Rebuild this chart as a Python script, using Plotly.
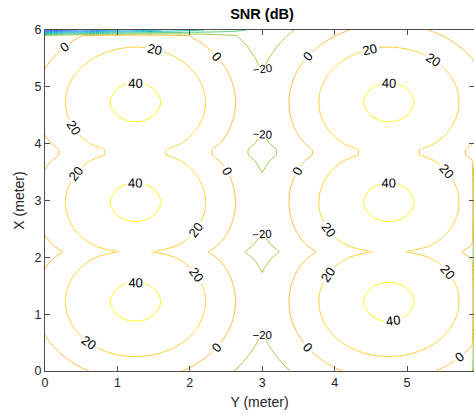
import numpy as np
import plotly.graph_objects as go

# ---- room / lamp layout (meters) ----
room_size = 6.0
grid_step = 0.1
led_cols = [1.25, 4.75]          # lamp columns along the horizontal axis (Y)
led_rows = [1.22, 2.97, 4.73]    # lamp rows along the vertical axis (X)

# single-lamp SNR (dB) against horizontal distance from the lamp (m)
profile_dist = [0.0, 0.2, 0.35, 0.5, 0.7, 0.97, 1.2, 1.38, 1.70, 1.83, 2.2, 3.0]
profile_db = [43.3, 42.2, 40.0, 36.6, 30.6, 20.0, 9.2, 0.0, -15.5, -20.0, -36.0, -71.0]

# samples along the far walls where the response collapses
top_edge_x = [0.0, 2.9]
top_edge_db = [-135.0, -36.0]
right_edge_y = [0.0, 3.6]
right_edge_db = [-130.0, -130.0]

# contour levels (dB) and the parula index used for each level's line
levels = [-120, -100, -80, -60, -40, -20, 0, 20, 40]
level_parula_idx = [10, 18, 26, 32, 38, 44, 52.5, 56, 63]

# ---- SNR map ----
u = np.round(np.arange(0, room_size + grid_step / 2, grid_step), 3)   # Y (m)
v = np.round(np.arange(0, room_size + grid_step / 2, grid_step), 3)   # X (m)
U, V = np.meshgrid(u, v)

# received power of every lamp, grouped by column: shape (cols, rows, ny, nx)
powers = np.array([[10 ** (np.interp(np.hypot(U - cy, V - cx), profile_dist, profile_db) / 10)
                    for cx in led_rows] for cy in led_cols])
col_best = powers.max(axis=1)                 # strongest lamp in each column
col_total = powers.sum(axis=1)                # total power of each column
serving = col_best.argmax(axis=0)             # column of the serving lamp
p_best = np.take_along_axis(col_best, serving[None], axis=0)[0]
p_noise = np.take_along_axis(col_total, serving[None], axis=0)[0]
snr = 10 * np.log10(p_best ** 2 / p_noise)

top = snr[-1, :]
snr[-1, :] = np.where(u <= top_edge_x[-1],
                      np.minimum(top, np.interp(u, top_edge_x, top_edge_db)), top)
right = snr[:, -1]
snr[:, -1] = np.where(v <= right_edge_y[-1],
                      np.minimum(right, np.interp(v, right_edge_y, right_edge_db)), right)

# ---- parula colormap ----
parula = np.array([
    [0.2422, 0.1504, 0.6603], [0.2504, 0.1650, 0.7076], [0.2578, 0.1818, 0.7511], [0.2647, 0.1978, 0.7952],
    [0.2706, 0.2147, 0.8364], [0.2751, 0.2342, 0.8710], [0.2783, 0.2559, 0.8991], [0.2803, 0.2782, 0.9221],
    [0.2813, 0.3006, 0.9414], [0.2810, 0.3228, 0.9579], [0.2795, 0.3447, 0.9717], [0.2760, 0.3667, 0.9829],
    [0.2699, 0.3892, 0.9906], [0.2602, 0.4123, 0.9952], [0.2440, 0.4358, 0.9988], [0.2206, 0.4603, 0.9973],
    [0.1963, 0.4847, 0.9892], [0.1834, 0.5074, 0.9798], [0.1786, 0.5289, 0.9682], [0.1764, 0.5499, 0.9520],
    [0.1687, 0.5703, 0.9359], [0.1540, 0.5902, 0.9218], [0.1460, 0.6091, 0.9079], [0.1380, 0.6276, 0.8973],
    [0.1248, 0.6459, 0.8883], [0.1113, 0.6635, 0.8763], [0.0952, 0.6798, 0.8598], [0.0689, 0.6948, 0.8394],
    [0.0297, 0.7082, 0.8163], [0.0036, 0.7203, 0.7917], [0.0067, 0.7312, 0.7660], [0.0433, 0.7411, 0.7394],
    [0.0964, 0.7500, 0.7120], [0.1408, 0.7584, 0.6842], [0.1717, 0.7670, 0.6554], [0.1938, 0.7758, 0.6251],
    [0.2161, 0.7843, 0.5923], [0.2470, 0.7918, 0.5567], [0.2906, 0.7973, 0.5188], [0.3406, 0.8008, 0.4789],
    [0.3909, 0.8029, 0.4354], [0.4456, 0.8024, 0.3909], [0.5044, 0.7993, 0.3480], [0.5616, 0.7942, 0.3045],
    [0.6174, 0.7876, 0.2612], [0.6720, 0.7793, 0.2227], [0.7242, 0.7698, 0.1910], [0.7738, 0.7598, 0.1646],
    [0.8203, 0.7498, 0.1535], [0.8634, 0.7406, 0.1596], [0.9035, 0.7330, 0.1774], [0.9393, 0.7288, 0.2100],
    [0.9728, 0.7298, 0.2394], [0.9956, 0.7434, 0.2371], [0.9970, 0.7659, 0.2199], [0.9952, 0.7893, 0.2028],
    [0.9892, 0.8136, 0.1885], [0.9786, 0.8386, 0.1766], [0.9676, 0.8639, 0.1643], [0.9610, 0.8890, 0.1537],
    [0.9597, 0.9135, 0.1423], [0.9628, 0.9373, 0.1265], [0.9691, 0.9606, 0.1064], [0.9769, 0.9839, 0.0805],
])


def parula_color(idx):
    i = int(np.floor(idx))
    j = min(i + 1, len(parula) - 1)
    c = parula[i] + (parula[j] - parula[i]) * (idx - i)
    return "rgb(%d,%d,%d)" % tuple(np.round(c * 255).astype(int))


level_color = {lv: parula_color(ix) for lv, ix in zip(levels, level_parula_idx)}
level_step = levels[1] - levels[0]

font_family = "Liberation Sans, Arial, sans-serif"
axis_grey = "#4d4d4d"
text_grey = "#262626"

# Levels are drawn in groups; each group is split into panels (x splits, y splits in m)
# so that every panel's contour pieces carry their own inline labels.
draw_groups = [
    ([40], [0.0, 6.0], [0.0, 6.0], 13),
    ([0, 20], [0.0, 1.2, 3.0, 4.8, 6.0], [0.0, 2.1, 3.9, 6.0], 13),
    ([-20], [0.0, 6.0], [0.0, 1.2, 3.0, 4.7, 6.0], 11.5),
    ([-120, -100, -80, -60, -40], [0.0, 6.0], [0.0, 6.0], 13),
]

fig = go.Figure()
for grp_levels, xs, ys, label_size in draw_groups:
    lo, hi = min(grp_levels), max(grp_levels)
    if hi > lo:
        cscale = [[(lv - lo) / (hi - lo), level_color[lv]] for lv in grp_levels]
    else:
        cscale = [[0, level_color[lo]], [1, level_color[lo]]]
    xi = [int(round(s / grid_step)) for s in xs]
    yi = [int(round(s / grid_step)) for s in ys]
    for ya, yb in zip(yi[:-1], yi[1:]):
        for xa, xb in zip(xi[:-1], xi[1:]):
            fig.add_trace(go.Contour(
                x=u[xa:xb + 1], y=v[ya:yb + 1], z=snr[ya:yb + 1, xa:xb + 1],
                autocontour=False,
                contours=dict(start=lo, end=hi, size=level_step,
                              coloring="lines", showlabels=True, labelformat=".0f",
                              labelfont=dict(size=label_size, color="black", family=font_family)),
                colorscale=cscale,
                showscale=False,
                line=dict(width=1, smoothing=0.6),
                hoverinfo="skip",
            ))

axis_common = dict(
    showgrid=False, zeroline=False, showline=True, linecolor=axis_grey, linewidth=1,
    mirror="ticks", ticks="inside", ticklen=5, tickcolor=axis_grey, tickwidth=1,
    tickfont=dict(size=12.5, color=text_grey, family=font_family),
)

fig.update_layout(
    width=474, height=415,
    margin=dict(l=45, r=0, t=30, b=44),
    paper_bgcolor="white", plot_bgcolor="white",
    showlegend=False,
    title=dict(text="<b>SNR (dB)</b>", x=262 / 474, xref="container", xanchor="center",
               y=1 - 14 / 415, yref="container", yanchor="middle",
               font=dict(size=14.5, color="black", family=font_family)),
    xaxis=dict(range=[0, 5.925], tickvals=[0, 1, 2, 3, 4, 5, 6],
               title=dict(text="Y (meter)", standoff=8,
                          font=dict(size=14, color=text_grey, family=font_family)),
               **axis_common),
    yaxis=dict(range=[0, 6], tickvals=[0, 1, 2, 3, 4, 5, 6],
               title=dict(text="X (meter)", standoff=6,
                          font=dict(size=14, color=text_grey, family=font_family)),
               **axis_common),
)

fig.write_html("out.html")
